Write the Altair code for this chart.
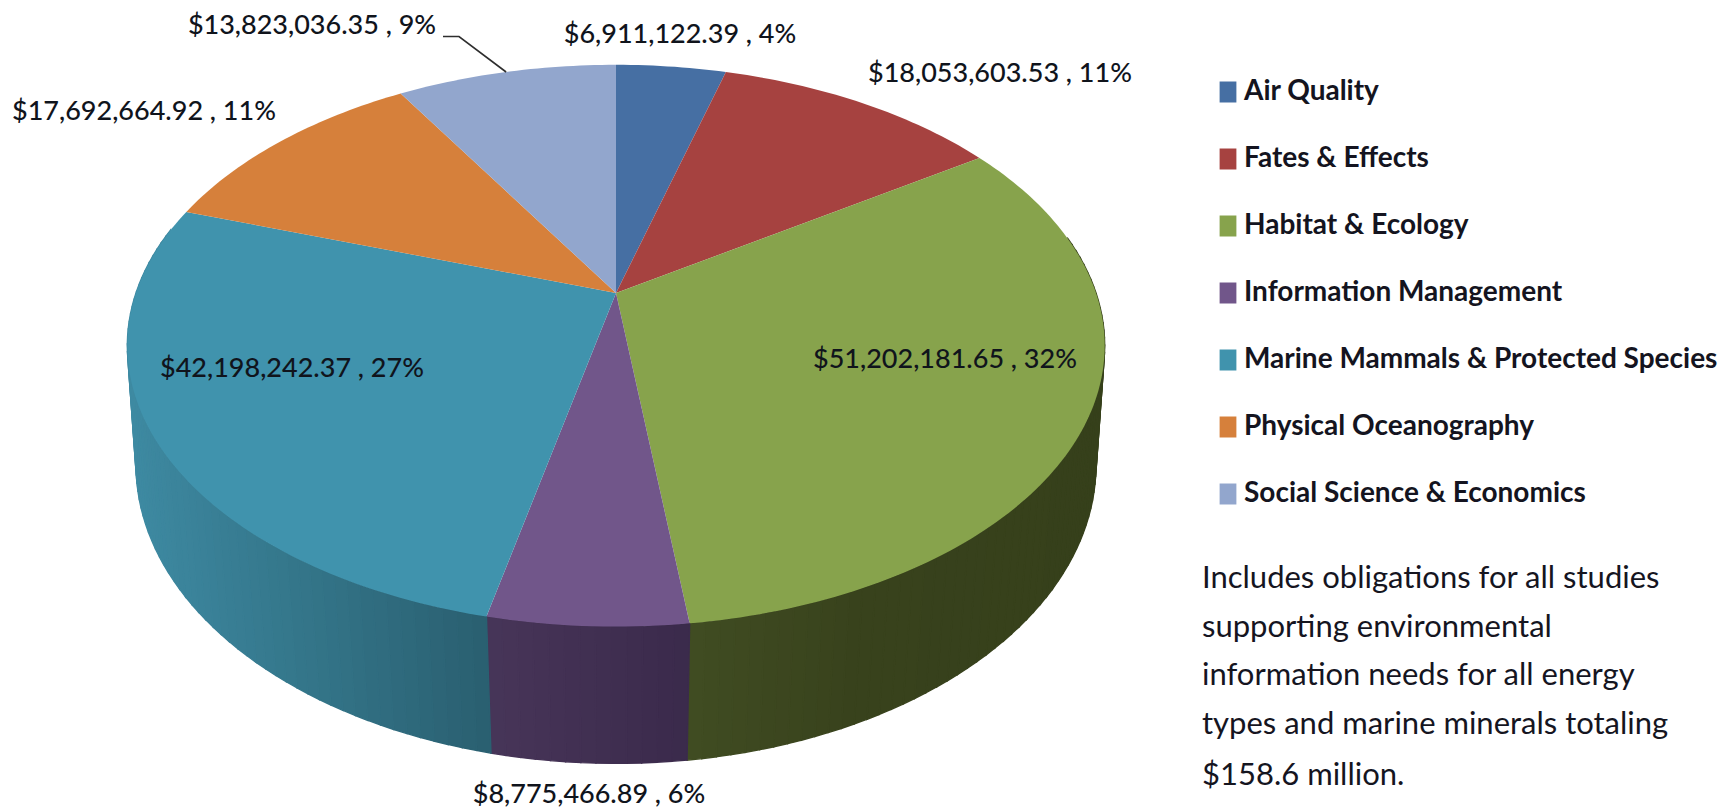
import math
import altair as alt

categories = ["Air Quality", "Fates & Effects", "Habitat & Ecology", "Information Management",
              "Marine Mammals & Protected Species", "Physical Oceanography", "Social Science & Economics"]
amounts = [6911122.39, 18053603.53, 51202181.65, 8775466.89, 42198242.37, 17692664.92, 13823036.35]
percents = [4, 11, 32, 6, 27, 11, 9]
note_lines = ["Includes obligations for all studies", "supporting environmental",
              "information needs for all energy", "types and marine minerals totaling",
              "$158.6  million."]

top_colors = ["#466fa3", "#a64240", "#87a34c", "#71568a", "#4093ad", "#d6803b", "#92a6cd"]
wall_stops = {
    "Habitat & Ecology": [(690, (0x40, 0x4c, 0x22)), (860, (0x38, 0x42, 0x1c)), (1110, (0x36, 0x40, 0x1b))],
    "Information Management": [(488, (0x47, 0x35, 0x59)), (690, (0x3a, 0x2a, 0x4b))],
    "Marine Mammals & Protected Species": [(130, (0x3e, 0x8a, 0xa2)), (300, (0x34, 0x76, 0x8a)), (488, (0x2a, 0x5f, 0x70))],
}
label_pos = [(680, 35), (1000, 74), (945, 360), (589, 795), (292, 369), (144, 112), (312, 26)]

LABEL_FONT = "Lato"
TOP = dict(R=480, S=271, p=0.1876, cx=608, cy=285)
BOTTOM = dict(R=473, S=290, p=0.17, cx=608, cy=406)


def project(theta_deg, m):
    t = math.radians(theta_deg)
    d = 1 + m["p"] * math.cos(t)
    return [m["cx"] + m["R"] * math.sin(t) / d, m["cy"] - m["S"] * math.cos(t) / d]


def mix(stops, x):
    x = x + 8
    if x <= stops[0][0]:
        c = stops[0][1]
    elif x >= stops[-1][0]:
        c = stops[-1][1]
    else:
        for (a, ca), (b, cb) in zip(stops, stops[1:]):
            if a <= x <= b:
                f = (x - a) / (b - a)
                c = tuple(ca[i] + (cb[i] - ca[i]) * f for i in range(3))
    return "#%02x%02x%02x" % tuple(int(round(v)) for v in c)


total = sum(amounts)
edges = [0.0]
for v in amounts:
    edges.append(edges[-1] + v / total * 360)

# top face
slices = []
for i, cat in enumerate(categories):
    a0, a1 = edges[i], edges[i + 1]
    n = max(8, int((a1 - a0) / 1.0))
    ring = [[TOP["cx"], TOP["cy"]]] + [project(a0 + (a1 - a0) * k / n, TOP) for k in range(n + 1)]
    ring.append([TOP["cx"], TOP["cy"]])
    slices.append({"type": "Feature", "properties": {"cat": cat},
                   "geometry": {"type": "Polygon", "coordinates": [ring]}})

# side wall, cut in thin strips for the shading
strips = []
for i, cat in enumerate(categories):
    if cat not in wall_stops:
        continue
    a0, a1 = max(edges[i], 78), min(edges[i + 1], 284)
    n = max(3, int((a1 - a0) / 1.5))
    for k in range(n):
        u, w = a0 + (a1 - a0) * k / n, a0 + (a1 - a0) * (k + 1) / n
        pts = [project(u, TOP), project(w, TOP), project(w, BOTTOM), project(u, BOTTOM)]
        pts.append(pts[0])
        xm = sum(p[0] for p in pts[:4]) / 4
        strips.append({"type": "Feature", "properties": {"shade": mix(wall_stops[cat], xm)},
                       "geometry": {"type": "Polygon", "coordinates": [pts]}})

# leader line of the smallest-label slice
social_mid = (edges[6] + edges[7]) / 2
end = project(social_mid, TOP)
leader = [{"type": "Feature", "properties": {},
           "geometry": {"type": "LineString", "coordinates": [[435, 28.5], [451, 28.5], end]}}]

color_scale = alt.Scale(domain=categories, range=top_colors)

wall = alt.Chart(alt.Data(values=strips)).mark_geoshape(strokeWidth=1.4).encode(
    fill=alt.Fill("properties.shade:N", scale=None, legend=None),
    stroke=alt.Stroke("properties.shade:N", scale=None, legend=None),
).project(type="identity", scale=1, translate=[0, 0])

top = alt.Chart(alt.Data(values=slices)).mark_geoshape(strokeWidth=0.5).encode(
    color=alt.Color("properties.cat:N", scale=color_scale, legend=alt.Legend(
        orient="none", legendX=1206, legendY=70, title=None,
        symbolType="M-0.8,-1H0.8V1H-0.8Z", symbolSize=441, symbolStrokeWidth=0,
        labelFont="Lato", labelFontSize=28, labelFontWeight="bold", labelColor="#141420",
        labelLimit=700, labelOffset=2, rowPadding=39, columns=1)),
).project(type="identity", scale=1, translate=[0, 0])

line = alt.Chart(alt.Data(values=leader)).mark_geoshape(
    filled=False, stroke="#2e2e2e", strokeWidth=1.6
).project(type="identity", scale=1, translate=[0, 0])

labels = [{"t": f"${v:,.2f} , {p}%", "x": x - 8, "y": y - 8}
          for v, p, (x, y) in zip(amounts, percents, label_pos)]
label_layer = alt.Chart(alt.Data(values=labels)).mark_text(
    font=LABEL_FONT, fontSize=27, fontWeight=500, color="#10141c", align="center", baseline="middle"
).encode(
    text="t:N",
    x=alt.X("x:Q", scale=None, axis=None),
    y=alt.Y("y:Q", scale=None, axis=None),
)

note_y = [579, 628, 676, 725, 776]
notes = [{"t": t, "x": 1194, "y": y - 8} for t, y in zip(note_lines, note_y)]
note_layer = alt.Chart(alt.Data(values=notes)).mark_text(
    font="Lato", fontSize=31, color="#15151f", align="left", baseline="middle"
).encode(
    text="t:N",
    x=alt.X("x:Q", scale=None, axis=None),
    y=alt.Y("y:Q", scale=None, axis=None),
)

chart = alt.layer(wall, top, line, label_layer, note_layer).properties(
    width=1720, height=802, padding=0, background="white",
    autosize=alt.AutoSizeParams(type="none"),
).configure_view(stroke=None)

chart.save("out.html", embed_options={"renderer": "svg", "actions": False})
